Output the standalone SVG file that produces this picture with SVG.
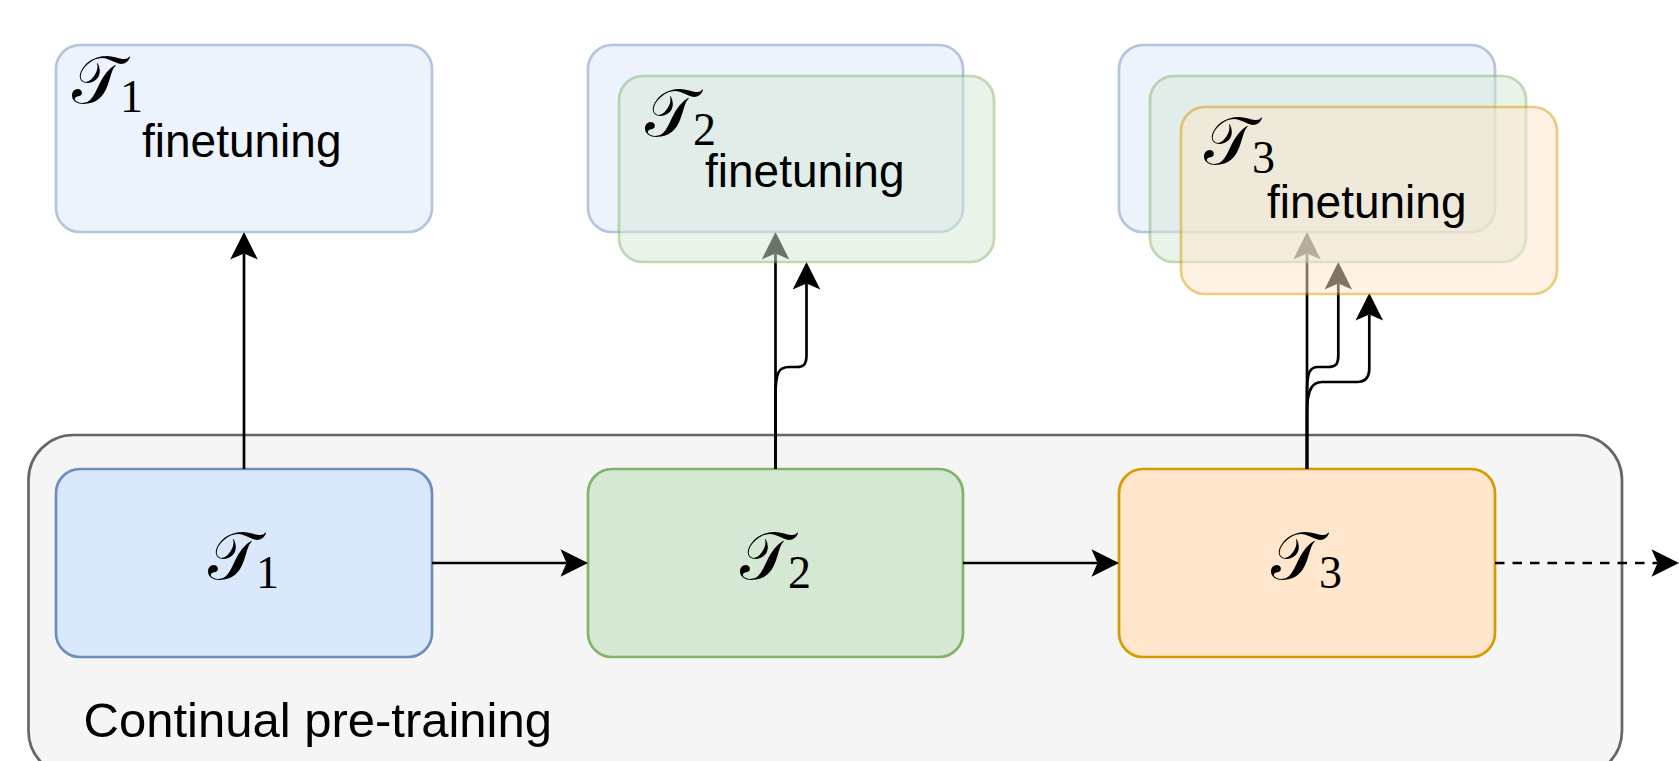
<svg xmlns="http://www.w3.org/2000/svg" width="1679" height="761" viewBox="0 0 1679 761">
  <style>
    .box { stroke-width: 2.7; }
    .blue { fill: #dae8fc; stroke: #6c8ebf; }
    .green { fill: #d5e8d4; stroke: #82b366; }
    .orange { fill: #ffe6cc; stroke: #d79b00; }
    .ghost { opacity: 0.5; }
    .cont { fill: #f5f5f5; stroke: #666666; stroke-width: 2.7; }
    .lbl { font-family: "Liberation Sans", Arial, sans-serif; fill: #000; }
    .cal { font-family: "DejaVu Serif", "DejaVu Sans", "Noto Sans", serif; font-style: normal; fill: #000; font-size: 66px; }
    .sub { font-family: "Liberation Serif", "Times New Roman", serif; font-size: 46px; }
    .edge { fill: none; stroke: #000; stroke-width: 2.7; }
    .dash { stroke-dasharray: 9.5 8; }
  </style>
  <defs>
    <marker id="arrow" viewBox="-7 -15 30 30" refX="0" refY="0" markerWidth="30" markerHeight="30" markerUnits="userSpaceOnUse" orient="auto">
      <path d="M21.5,0 L-6,-13.8 L0,0 L-6,13.8 Z" fill="#000" stroke="none"/>
    </marker>
  </defs>

  <g id="container">
    <rect class="cont" x="28.5" y="435" width="1593.5" height="341" rx="45" ry="45"/>
    <text class="lbl" x="83.5" y="737" font-size="49">Continual pre-training</text>
  </g>

  <g id="t1">
    <rect class="box blue" x="56" y="469" width="376" height="188" rx="24" ry="24"/>
    <text class="cal" x="208" y="579">𝒯<tspan class="sub" dx="-3" dy="9">1</tspan></text>
  </g>
  <g id="t2">
    <rect class="box green" x="588" y="469" width="375" height="188" rx="24" ry="24"/>
    <text class="cal" x="740" y="579">𝒯<tspan class="sub" dx="-3" dy="9">2</tspan></text>
  </g>
  <g id="t3">
    <rect class="box orange" x="1119" y="469" width="376" height="188" rx="24" ry="24"/>
    <text class="cal" x="1271" y="579">𝒯<tspan class="sub" dx="-3" dy="9">3</tspan></text>
  </g>

  <g id="connectors">
    <path class="edge" d="M244,469 V253.5" marker-end="url(#arrow)"/>
    <path class="edge" d="M775.5,469 V253.5" marker-end="url(#arrow)"/>
    <path class="edge" d="M775.5,469 V395 C775.5,372 779,367 789,367 L797,367 C804,367 806.5,364 806.5,355 V283.5" marker-end="url(#arrow)"/>
    <path class="edge" d="M1307,469 V253.5" marker-end="url(#arrow)"/>
    <path class="edge" d="M1307,469 V392 C1307,372 1310,367 1318,367 L1328,367 C1336,367 1338.3,364 1338.3,355 V283.5" marker-end="url(#arrow)"/>
    <path class="edge" d="M1307,469 V412 C1307,390 1312,382 1322,382 L1357,382 C1366,382 1369.3,377 1369.3,368 V314.5" marker-end="url(#arrow)"/>
    <path class="edge" d="M432,563 H566.5" marker-end="url(#arrow)"/>
    <path class="edge" d="M963,563 H1097.5" marker-end="url(#arrow)"/>
    <path class="edge dash" d="M1495,563 H1657.5" marker-end="url(#arrow)"/>
  </g>

  <g id="t1-finetuning">
    <rect class="box blue ghost" x="56" y="45" width="376" height="187" rx="24" ry="24"/>
    <text class="cal" x="72" y="103">𝒯<tspan class="sub" dx="-3" dy="9">1</tspan></text>
    <text class="lbl" x="142" y="156.5" font-size="46">finetuning</text>
  </g>

  <g id="t2-finetuning-back" class="ghost">
    <rect class="box blue" x="588" y="45" width="375" height="187" rx="24" ry="24"/>
  </g>
  <g id="t2-finetuning">
    <rect class="box green ghost" x="619" y="76" width="375" height="186" rx="24" ry="24"/>
    <text class="cal" x="645" y="136">𝒯<tspan class="sub" dx="-3" dy="9">2</tspan></text>
    <text class="lbl" x="705" y="187" font-size="46">finetuning</text>
  </g>

  <g id="t3-finetuning-back1" class="ghost">
    <rect class="box blue" x="1119" y="45" width="376" height="187" rx="24" ry="24"/>
  </g>
  <g id="t3-finetuning-back2" class="ghost">
    <rect class="box green" x="1150" y="76" width="376" height="186" rx="24" ry="24"/>
  </g>
  <g id="t3-finetuning">
    <rect class="box orange ghost" x="1181" y="107" width="376" height="187" rx="24" ry="24"/>
    <text class="cal" x="1204" y="164">𝒯<tspan class="sub" dx="-3" dy="9">3</tspan></text>
    <text class="lbl" x="1267" y="218" font-size="46">finetuning</text>
  </g>
</svg>
